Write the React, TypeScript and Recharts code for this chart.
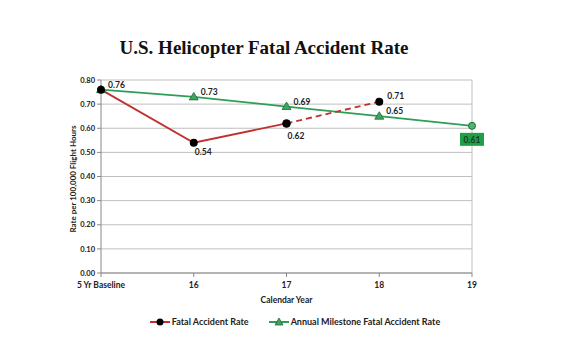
import React from "react";
import {
  LineChart,
  Line,
  XAxis,
  YAxis,
  CartesianGrid,
  ReferenceLine,
  LabelList,
} from "recharts";

const years = ["5 Yr Baseline", "16", "17", "18", "19"];
const fatalRate = [0.76, 0.54, 0.62, null, null];
const fatalProjected = [null, null, 0.62, 0.71, null];
const milestoneRate = [0.76, 0.73, 0.69, 0.65, 0.61];
const yTicks = [0, 0.1, 0.2, 0.3, 0.4, 0.5, 0.6, 0.7, 0.8];

const data = years.map((year, i) => ({
  year,
  fatal: fatalRate[i],
  projected: fatalProjected[i],
  milestone: milestoneRate[i],
}));

const RED = "#C0302F";
const GREEN = "#2E9E57";
const FONT = "Lato, 'Liberation Sans', sans-serif";

const TriangleDot = (props: any) => {
  const { cx, cy, index } = props;
  if (cx == null || cy == null) return null;
  if (index === 4) {
    return <circle cx={cx} cy={cy} r={3.5} fill="#4FB66F" stroke="#1E6B3A" strokeWidth={1} />;
  }
  return (
    <path
      d={`M${cx},${cy - 4.5} L${cx + 4.5},${cy + 3} L${cx - 4.5},${cy + 3} Z`}
      fill="#3FA45C"
      stroke="#1E6B3A"
      strokeWidth={0.8}
    />
  );
};

const BlackDot = (props: any) => {
  const { cx, cy, value } = props;
  if (cx == null || cy == null || value == null) return null;
  return <circle cx={cx} cy={cy} r={4} fill="#000" />;
};

const labelText = (x: number, y: number, v: number) => (
  <text x={x} y={y} fontSize={8.5} fontWeight={700} fontFamily={FONT} fill="#222">
    {v.toFixed(2)}
  </text>
);

const fatalLabel = (props: any) => {
  const { x, y, value, index } = props;
  if (value == null) return null;
  const pos: Record<number, [number, number]> = {
    0: [7, -2],
    1: [1, 12],
    2: [1, 16],
  };
  const [dx, dy] = pos[index] || [0, 0];
  return labelText(x + dx, y + dy, value);
};

const projectedLabel = (props: any) => {
  const { x, y, value, index } = props;
  if (value == null || index !== 3) return null;
  return labelText(x + 8, y - 3, value);
};

const milestoneLabel = (props: any) => {
  const { x, y, value, index } = props;
  if (value == null || index === 0) return null;
  if (index === 4) {
    return (
      <g>
        <rect x={x - 12} y={y + 7} width={24} height={13} fill="#1FA048" />
        <text x={x} y={y + 17} textAnchor="middle" fontSize={8.5} fontWeight={700} fontFamily={FONT} fill="#1a3d22">
          {value.toFixed(2)}
        </text>
      </g>
    );
  }
  return labelText(x + 7, y - 2, value);
};

const yLabel = () => {
  const cy = 179;
  const cx = 73;
  return (
    <text
      x={cx}
      y={cy}
      transform={`rotate(-90 ${cx} ${cy})`}
      textAnchor="middle"
      dominantBaseline="central"
      fontSize={8}
      fontWeight={700}
      fontFamily={FONT}
      fill="#222"
    >
      Rate per 100,000 Flight Hours
    </text>
  );
};

export default function App() {
  return (
    <div
      style={{
        position: "absolute",
        left: 0,
        top: 0,
        width: 570,
        height: 360,
        background: "#fff",
      }}
    >
      <div
        style={{
          position: "absolute",
          left: 0,
          top: 37,
          width: 528,
          textAlign: "center",
          fontFamily: "'Liberation Serif', 'Times New Roman', serif",
          fontWeight: 700,
          fontSize: 19,
          color: "#111",
        }}
      >
        U.S. Helicopter Fatal Accident Rate
      </div>
      <div style={{ position: "absolute", left: 0, top: 0 }}>
        <LineChart
          width={570}
          height={360}
          data={data}
          margin={{ top: 80, right: 98, bottom: 57, left: 61 }}
        >
          <CartesianGrid vertical={false} stroke="#BFBFBF" strokeWidth={1} />
          <ReferenceLine x="19" stroke="#BFBFBF" />
          <XAxis
            dataKey="year"
            stroke="#888"
            tickSize={4}
            tick={{ fontSize: 8.5, fontWeight: 700, fontFamily: FONT, fill: "#222" }}
            tickMargin={5}
            height={30}
            label={{
              value: "Calendar Year",
              position: "insideBottom",
              offset: 0,
              style: { fontSize: 8.5, fontWeight: 700, fontFamily: FONT, fill: "#222" },
            }}
          />
          <YAxis
            domain={[0, 0.8]}
            ticks={yTicks}
            width={40}
            stroke="#888"
            tickSize={4}
            tickFormatter={(v: number) => v.toFixed(2)}
            tick={{ fontSize: 7.5, fontWeight: 700, fontFamily: FONT, fill: "#222" }}
            label={yLabel}
          />
          <Line
            dataKey="milestone"
            stroke={GREEN}
            strokeWidth={1.8}
            dot={<TriangleDot />}
            isAnimationActive={false}
          >
            <LabelList dataKey="milestone" content={milestoneLabel} />
          </Line>
          <Line
            dataKey="fatal"
            stroke={RED}
            strokeWidth={1.8}
            dot={<BlackDot />}
            isAnimationActive={false}
          >
            <LabelList dataKey="fatal" content={fatalLabel} />
          </Line>
          <Line
            dataKey="projected"
            stroke={RED}
            strokeWidth={1.8}
            strokeDasharray="6 4"
            dot={<BlackDot />}
            isAnimationActive={false}
          >
            <LabelList dataKey="projected" content={projectedLabel} />
          </Line>
        </LineChart>
      </div>
      <div
        style={{
          position: "absolute",
          left: 40,
          top: 316,
          width: 510,
          display: "flex",
          justifyContent: "center",
          gap: 20,
          fontFamily: FONT,
          fontSize: 9,
          fontWeight: 700,
          color: "#222",
        }}
      >
        <span style={{ display: "flex", alignItems: "center", gap: 2 }}>
          <svg width={20} height={10}>
            <line x1={0} y1={5} x2={20} y2={5} stroke={RED} strokeWidth={2} />
            <circle cx={10} cy={5} r={3.5} fill="#000" />
          </svg>
          Fatal Accident Rate
        </span>
        <span style={{ display: "flex", alignItems: "center", gap: 2 }}>
          <svg width={20} height={10}>
            <line x1={0} y1={5} x2={20} y2={5} stroke={GREEN} strokeWidth={2} />
            <path d="M10,1 L14,8 L6,8 Z" fill="#3FA45C" stroke="#1E6B3A" strokeWidth={0.8} />
          </svg>
          Annual Milestone Fatal Accident Rate
        </span>
      </div>
    </div>
  );
}
